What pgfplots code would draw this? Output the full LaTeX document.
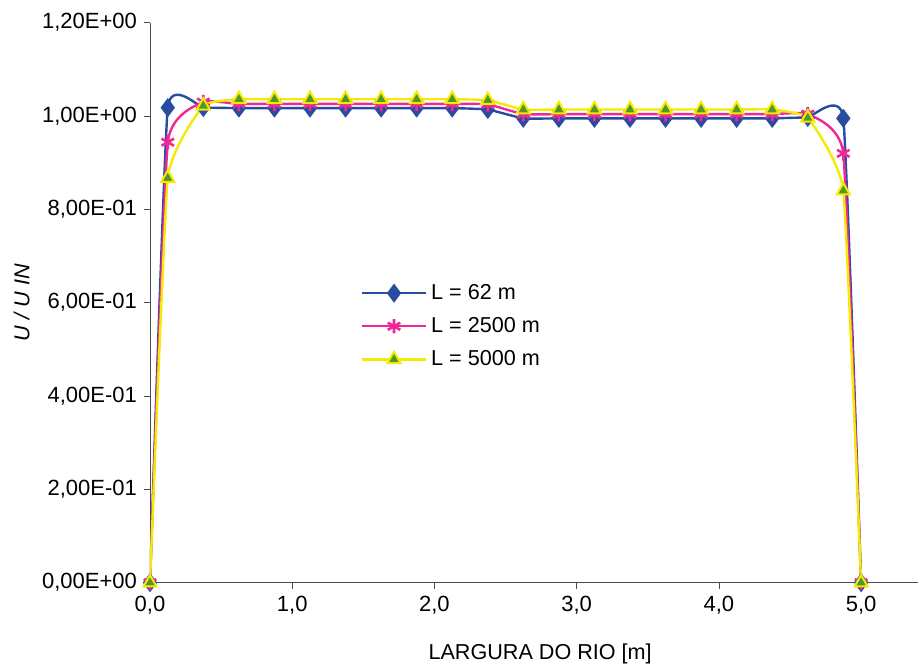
\documentclass[border=0pt]{standalone}
\usepackage{fontspec}
\setmainfont{Liberation Sans}
\usepackage{pgfplots}
\pgfplotsset{compat=1.18}

\definecolor{serieblue}{RGB}{40,76,160}
\definecolor{seriepink}{RGB}{240,40,150}
\definecolor{serieyellow}{RGB}{245,235,0}
\definecolor{triggreen}{RGB}{80,150,40}

% x = position across the river, one value per cell centre plus both walls
\pgfplotstableread{
x      a      b      c
0.000  0.000  0.000  0.000
0.125  1.018  0.944  0.867
0.375  1.018  1.030  1.022
0.625  1.017  1.026  1.036
0.875  1.017  1.026  1.036
1.125  1.017  1.026  1.036
1.375  1.017  1.026  1.036
1.625  1.017  1.026  1.036
1.875  1.017  1.026  1.036
2.125  1.017  1.026  1.036
2.375  1.014  1.025  1.034
2.625  0.995  1.004  1.014
2.875  0.995  1.004  1.014
3.125  0.995  1.004  1.014
3.375  0.995  1.004  1.014
3.625  0.995  1.004  1.014
3.875  0.995  1.004  1.014
4.125  0.995  1.004  1.014
4.375  0.995  1.004  1.014
4.625  0.997  1.004  0.996
4.875  0.995  0.920  0.840
5.000  0.000  0.000  0.000
}\perfil

\begin{document}
\begin{tikzpicture}
\useasboundingbox (-75pt,-41.15pt) rectangle (386.5pt,291.35pt);
\begin{axis}[
    scale only axis,
    width=384pt, height=280pt,
    xmin=0, xmax=5.4,
    ymin=0, ymax=1.2,
    axis lines=left,
    axis line style={-, black!70},
    tick align=outside,
    major tick length=3pt,
    tick style={black!70},
    xtick={0,1,2,3,4,5},
    xticklabels={{0,0},{1,0},{2,0},{3,0},{4,0},{5,0}},
    ytick={0,0.2,0.4,0.6,0.8,1.0,1.2},
    yticklabels={{0,00E+00},{2,00E-01},{4,00E-01},{6,00E-01},{8,00E-01},{1,00E+00},{1,20E+00}},
    tick label style={font=\fontsize{11}{13}\selectfont},
    xlabel={LARGURA DO RIO [m]},
    ylabel={\itshape U / U IN},
    label style={font=\fontsize{10.8}{13}\selectfont},
    xlabel style={at={(axis description cs:0.508,0)}, anchor=center, yshift=-35.5pt},
    ylabel style={at={(axis description cs:-0.167,0.5)}, anchor=center},
    legend style={at={(axis description cs:0.274,0.541)}, anchor=north west,
        draw=none, fill=none, font=\fontsize{10.8}{13}\selectfont,
        row sep=3.5pt, inner sep=0pt},
    legend cell align=left,
    legend image code/.code={
        \draw[mark repeat=2, mark phase=2] plot coordinates {(0pt,0pt) (16pt,0pt) (32pt,0pt)};
    },
    every axis plot/.append style={smooth, tension=0.22, line width=1.2pt},
]
\addplot[serieblue, mark=diamond*, mark size=3.8pt, mark options={solid, fill=serieblue}]
    table[x=x, y=a] {\perfil};
\addplot[seriepink, mark=asterisk, mark size=3.6pt, mark options={solid, line width=1.3pt}]
    table[x=x, y=b] {\perfil};
\addplot[serieyellow, mark=triangle*, mark size=3.8pt, mark options={solid, fill=triggreen, draw=serieyellow, line width=1pt}]
    table[x=x, y=c] {\perfil};
\legend{L = 62 m, L = 2500 m, L = 5000 m}
\end{axis}
\end{tikzpicture}
\end{document}
